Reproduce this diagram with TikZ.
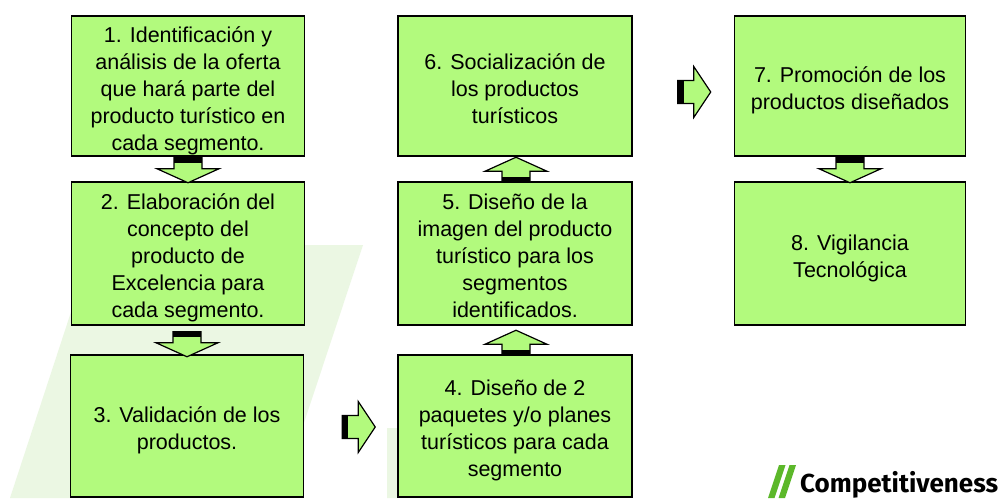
\documentclass[tikz,border=0pt]{standalone}
\usepackage{fontspec}
\setmainfont{Liberation Sans}
\newfontfamily\logofont{Fira Sans}
\usetikzlibrary{calc}
\definecolor{boxgreen}{HTML}{B2FA7D}
\definecolor{wmgreen}{HTML}{EBF7E3}
\definecolor{logogreen}{HTML}{5CB82A}
\newcommand{\boxtext}[1]{\raisebox{-5pt}[\height][\depth]{\begin{tabular}{@{}c@{}}#1\end{tabular}}}
\begin{document}
\begin{tikzpicture}[x=1pt,y=-1pt,
  stepbox/.style={draw=black, line width=1.5pt, fill=boxgreen,
    minimum width=233pt, minimum height=141pt, inner sep=2pt,
    font=\fontsize{21.5}{27}\selectfont},
  arrowline/.style={draw=black, line width=1.2pt, line join=miter},
  varr/.pic={
    \fill[boxgreen] (0,-14) -- (11,-14) -- (11,-31) -- (25,0) -- (11,31) -- (11,14) -- (0,14) -- cycle;
    \fill[black] (0,-14) rectangle (5,14);
    \draw[arrowline] (0,-14) -- (11,-14) -- (11,-31) -- (25,0) -- (11,31) -- (11,14) -- (0,14) -- cycle;
  },
  harr/.pic={
    \fill[boxgreen] (0,-11.5) -- (16,-11.5) -- (16,-25.5) -- (33,0) -- (16,25.5) -- (16,11.5) -- (0,11.5) -- cycle;
    \fill[black] (0,-11.5) rectangle (6,11.5);
    \draw[arrowline] (0,-11.5) -- (16,-11.5) -- (16,-25.5) -- (33,0) -- (16,25.5) -- (16,11.5) -- (0,11.5) -- cycle;
  }]
\useasboundingbox (0,0) rectangle (1004,498);
\fill[white] (0,0) rectangle (1004,498);
% watermark
\fill[wmgreen] (93,245) -- (363,245) -- (279,498) -- (10,498) -- cycle;
\fill[wmgreen] (387,428) -- (600,428) -- (577,498) -- (387,498) -- cycle;
% boxes
\node[stepbox, minimum height=140pt] (b1) at (188,86) {\boxtext{1. Identificación y\\análisis de la oferta\\que hará parte del\\producto turístico en\\cada segmento.}};
\node[stepbox, minimum height=143pt] (b2) at (188,253.5) {\boxtext{2. Elaboración del\\concepto del\\producto de\\Excelencia para\\cada segmento.}};
\node[stepbox, minimum height=142pt] (b3) at (187,426) {\boxtext{3. Validación de los\\productos.}};
\node[stepbox, minimum width=234pt, minimum height=142pt] (b4) at (515,426) {\boxtext{4. Diseño de 2\\paquetes y/o planes\\turísticos para cada\\segmento}};
\node[stepbox, minimum width=234pt, minimum height=143pt] (b5) at (515,253.5) {\boxtext{5. Diseño de la\\imagen del producto\\turístico para los\\segmentos\\identificados.}};
\node[stepbox, minimum width=234pt, minimum height=140pt] (b6) at (515,86) {\boxtext{6. Socialización de\\los productos\\turísticos}};
\node[stepbox, minimum width=231pt, minimum height=140pt] (b7) at (850,86) {\boxtext{7. Promoción de los\\productos diseñados}};
\node[stepbox, minimum width=231pt, minimum height=143pt] (b8) at (850,253.5) {\boxtext{8. Vigilancia\\Tecnológica}};
% block arrows
\pic[rotate=-90] (a12) at ($(b1.south)+(0,1)$) {varr};
\pic[rotate=-90] (a23) at ($(b2.south)+(-1,6)$) {varr};
\pic[rotate=90] (a45) at ($(b4.north)+(1,1)$) {varr};
\pic[rotate=90] (a56) at ($(b5.north)+(1,1)$) {varr};
\pic (a34) at ($(b3.east)+(38,1)$) {harr};
\pic (a67) at ($(b6.east)+(45,6)$) {harr};
\pic[rotate=-90] (a78) at ($(b7.south)+(0,1)$) {varr};
% logo
\fill[logogreen] (779,465) -- (785.5,465) -- (774.5,498) -- (768,498) -- cycle;
\fill[logogreen] (789.5,465) -- (796,465) -- (785,498) -- (778.5,498) -- cycle;
\node[anchor=base west, inner sep=0pt, font=\logofont\bfseries\fontsize{26}{26}\selectfont] (logo) at (800,492) {Competitiveness};
\end{tikzpicture}
\end{document}
